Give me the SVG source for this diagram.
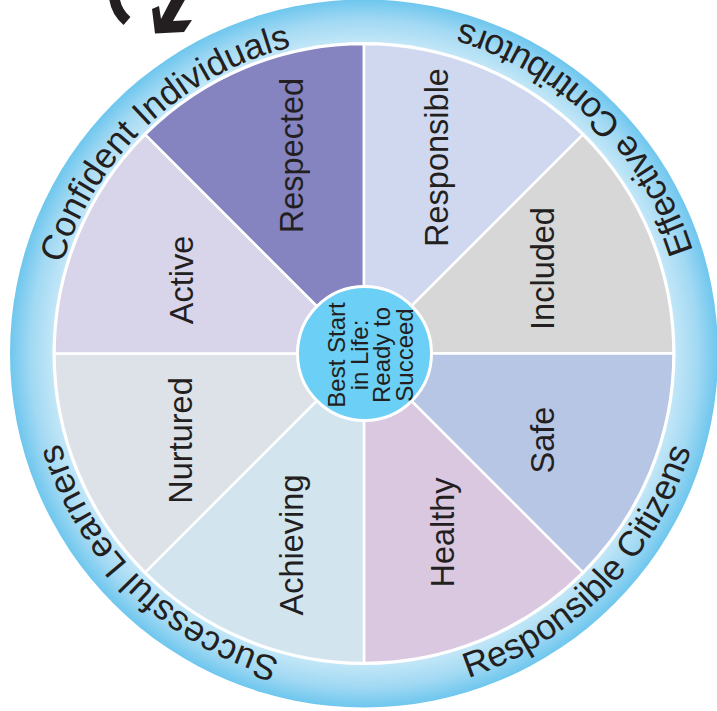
<svg xmlns="http://www.w3.org/2000/svg" xmlns:xlink="http://www.w3.org/1999/xlink" width="717" height="711" viewBox="0 0 717 711">
<style>
  .lbl { font-family: "Liberation Sans", Arial, Helvetica, sans-serif; font-size: 32.5px; fill: #231f20; text-anchor: middle; }
  .ring { font-family: "Liberation Sans", Arial, Helvetica, sans-serif; font-size: 35.5px; fill: #231f20; text-anchor: middle; }
  .ctr { font-family: "Liberation Sans", Arial, Helvetica, sans-serif; font-size: 24px; fill: #231f20; text-anchor: middle; }
  .sec { stroke: #ffffff; stroke-width: 2.5; stroke-linejoin: round; }
</style>
<defs>
  <radialGradient id="ringGrad" gradientUnits="userSpaceOnUse" cx="364" cy="353.5" r="354.5">
    <stop offset="0.87" stop-color="#c6e8f8"/>
    <stop offset="0.94" stop-color="#a2d9f3"/>
    <stop offset="1" stop-color="#6dc6ee"/>
  </radialGradient>
  <path id="pConf" d="M131.9,573 A319.5,319.5 0 0 1 596.1,134"/>
  <path id="pSucc" d="M591.9,577.4 A319.5,319.5 0 0 1 136.1,129.6"/>
  <path id="pEff" d="M611.5,596.7 A347,347 0 0 0 116.5,110.3"/>
  <path id="pResp" d="M121.7,601.8 A347,347 0 0 0 606.3,105.2"/>
</defs>
<rect width="717" height="711" fill="#ffffff"/>

<g id="ring">
  <circle cx="364" cy="353.5" r="354" fill="url(#ringGrad)"/>
  <circle cx="364" cy="353.5" r="311.5" fill="#ffffff"/>
  <text class="ring"><textPath xlink:href="#pConf" href="#pConf" startOffset="50%">Confident Individuals</textPath></text>
  <text class="ring"><textPath xlink:href="#pEff" href="#pEff" startOffset="50%">Effective Contributors</textPath></text>
  <text class="ring"><textPath xlink:href="#pResp" href="#pResp" startOffset="50%">Responsible Citizens</textPath></text>
  <text class="ring"><textPath xlink:href="#pSucc" href="#pSucc" startOffset="50%">Successful Learners</textPath></text>
</g>

<g id="respected">
  <path class="sec" fill="#8584c0" d="M364,353.5 L145.15,134.65 A309.5,309.5 0 0 1 364,44 Z"/>
  <text class="lbl" transform="translate(303,155.5) rotate(-90)">Respected</text>
</g>
<g id="responsible">
  <path class="sec" fill="#cfd8ee" d="M364,353.5 L364,44 A309.5,309.5 0 0 1 582.85,134.65 Z"/>
  <text class="lbl" transform="translate(447.5,157.5) rotate(-90)">Responsible</text>
</g>
<g id="included">
  <path class="sec" fill="#d7d7d7" d="M364,353.5 L582.85,134.65 A309.5,309.5 0 0 1 673.5,353.5 Z"/>
  <text class="lbl" transform="translate(553.5,268.5) rotate(-90)">Included</text>
</g>
<g id="safe">
  <path class="sec" fill="#b8c6e5" d="M364,353.5 L673.5,353.5 A309.5,309.5 0 0 1 582.85,572.35 Z"/>
  <text class="lbl" transform="translate(554,440) rotate(-90)">Safe</text>
</g>
<g id="healthy">
  <path class="sec" fill="#dac7e0" d="M364,353.5 L582.85,572.35 A309.5,309.5 0 0 1 364,663 Z"/>
  <text class="lbl" transform="translate(454,532.5) rotate(-90)">Healthy</text>
</g>
<g id="achieving">
  <path class="sec" fill="#d2e5ef" d="M364,353.5 L364,663 A309.5,309.5 0 0 1 145.15,572.35 Z"/>
  <text class="lbl" transform="translate(303,545) rotate(-90)">Achieving</text>
</g>
<g id="nurtured">
  <path class="sec" fill="#dde1e8" d="M364,353.5 L145.15,572.35 A309.5,309.5 0 0 1 54.5,353.5 Z"/>
  <text class="lbl" transform="translate(192,440.5) rotate(-90)">Nurtured</text>
</g>
<g id="active">
  <path class="sec" fill="#d8d4ea" d="M364,353.5 L54.5,353.5 A309.5,309.5 0 0 1 145.15,134.65 Z"/>
  <text class="lbl" transform="translate(193,280) rotate(-90)">Active</text>
</g>

<g id="center">
  <circle cx="364.5" cy="353.5" r="67" fill="#6ccff5" stroke="#ffffff" stroke-width="3"/>
  <text class="ctr" transform="translate(345,355) rotate(-90)">Best Start</text>
  <text class="ctr" transform="translate(367.5,355) rotate(-90)">in Life:</text>
  <text class="ctr" transform="translate(390,355) rotate(-90)">Ready to</text>
  <text class="ctr" transform="translate(413,355) rotate(-90)">Succeed</text>
</g>

<g id="connectors">
  <path d="M114,-6 A37.5,37.5 0 0 0 127,21" fill="none" stroke="#231f20" stroke-width="10.5"/>
  <polygon fill="#231f20" points="155,33.5 152,9 159,6 161,19 172,-2 186,-2 173,21 192,20 184,32"/>
</g>
</svg>
